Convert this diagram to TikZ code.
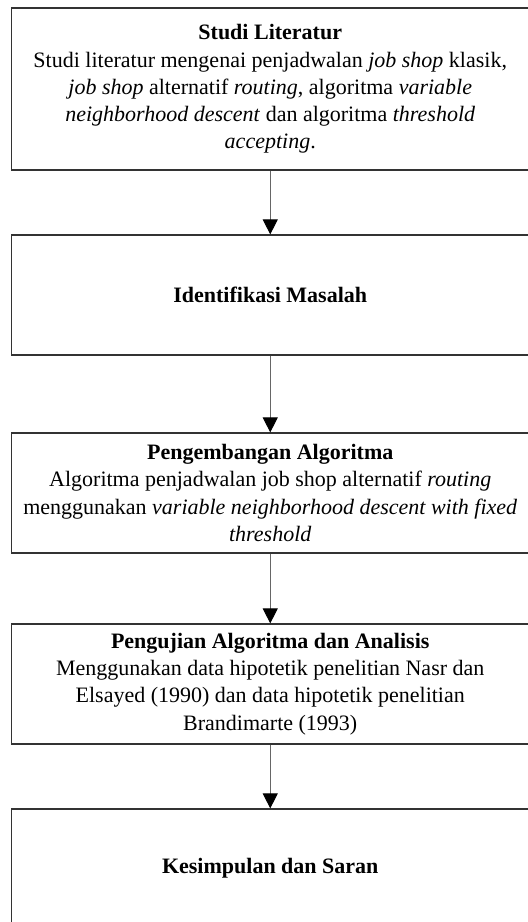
\documentclass[tikz,border=0pt]{standalone}
\usepackage{fontspec}
\setmainfont{Liberation Serif}
\usetikzlibrary{arrows.meta}

\tikzset{
    stage/.style={draw=black!80, line width=1.2pt, minimum width=517.5pt, minimum height=120pt,
        inner sep=0pt, align=center, font=\fontsize{22}{27.2}\selectfont},
    flow/.style={draw=black!60, line width=1pt, -{Triangle[width=15pt,length=15pt,color=black]}}
}

\begin{document}
\begin{tikzpicture}[x=1pt, y=-1pt]
        \useasboundingbox (0,0) rectangle (528,922);
        \clip (0,0) rectangle (528,922);

        % Stages
        \node[stage, minimum height=162pt] (lit) at (270.25,89) {\textbf{Studi Literatur}\\
            Studi literatur mengenai penjadwalan \textit{job shop} klasik,\\
            \textit{job shop} alternatif \textit{routing}, algoritma \textit{variable}\\
            \textit{neighborhood descent} dan algoritma \textit{threshold}\\
            \textit{accepting}.};

        \node[stage] (masalah) at (270.25,295) {\textbf{Identifikasi Masalah}};

        \node[stage] (kembang) at (270.25,493) {\textbf{Pengembangan Algoritma}\\
            Algoritma penjadwalan job shop alternatif \textit{routing}\\
            menggunakan \textit{variable neighborhood descent with fixed}\\
            \textit{threshold}};

        \node[stage] (uji) at (270.25,684) {\textbf{Pengujian Algoritma dan Analisis}\\
            Menggunakan data hipotetik penelitian Nasr dan\\
            Elsayed (1990) dan data hipotetik penelitian\\
            Brandimarte (1993)};

        \node[stage, minimum height=118pt] (simpul) at (270.25,868) {\textbf{Kesimpulan dan Saran}};

        % Arrows
        \draw[flow] (lit) -- (masalah);
        \draw[flow] (masalah) -- (kembang);
        \draw[flow] (kembang) -- (uji);
        \draw[flow] (uji) -- (simpul);
\end{tikzpicture}
\end{document}
